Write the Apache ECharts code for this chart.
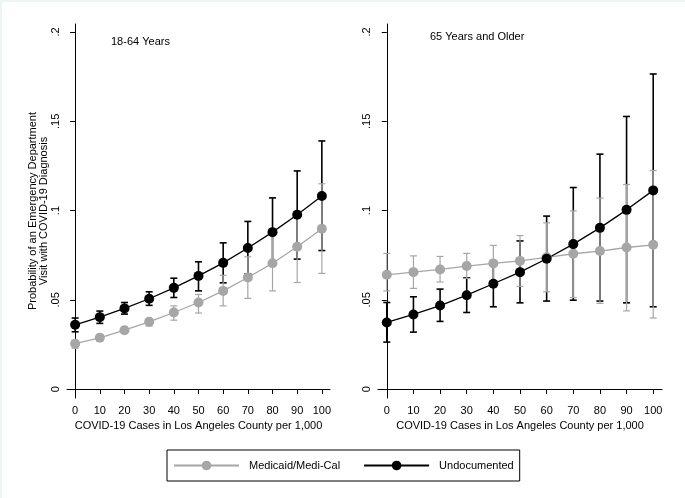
<!DOCTYPE html>
<html>
<head>
<meta charset="utf-8">
<script src="https://cdn.jsdelivr.net/npm/echarts@6/dist/echarts.min.js"></script>
<style>
html,body{margin:0;padding:0;background:#fff;}
#c{width:685px;height:498px;}
</style>
</head>
<body>
<div id="c"></div>
<script>
// ---- data ----
const xVals = [0, 10, 20, 30, 40, 50, 60, 70, 80, 90, 100];
const xTicks = [0, 10, 20, 30, 40, 50, 60, 70, 80, 90, 100];
const yTicks = [0, 0.05, 0.1, 0.15, 0.2];
const seriesNames = ['Medicaid/Medi-Cal', 'Undocumented'];
const panelTitles = ['18-64 Years', '65 Years and Older'];

// 18-64 years
const leftMedicaid   = [0.0254, 0.0287, 0.0330, 0.0377, 0.0429, 0.0485, 0.0550, 0.0625, 0.0705, 0.0797, 0.0898];
const leftMedicaidLo = [0.0229, 0.0269, 0.0314, 0.0353, 0.0386, 0.0426, 0.0466, 0.0508, 0.0550, 0.0597, 0.0648];
const leftMedicaidHi = [0.0273, 0.0306, 0.0347, 0.0394, 0.0466, 0.0530, 0.0637, 0.0741, 0.0860, 0.0997, 0.1150];
const leftUndoc      = [0.0360, 0.0403, 0.0452, 0.0506, 0.0567, 0.0634, 0.0707, 0.0790, 0.0879, 0.0976, 0.1082];
const leftUndocLo    = [0.0321, 0.0368, 0.0420, 0.0469, 0.0513, 0.0550, 0.0595, 0.0645, 0.0690, 0.0728, 0.0776];
const leftUndocHi    = [0.0398, 0.0437, 0.0485, 0.0545, 0.0621, 0.0713, 0.0819, 0.0939, 0.1071, 0.1222, 0.1390];

// 65 years and older
const rightMedicaid   = [0.0640, 0.0655, 0.0670, 0.0689, 0.0704, 0.0718, 0.0738, 0.0758, 0.0773, 0.0793, 0.0808];
const rightMedicaidLo = [0.0550, 0.0564, 0.0600, 0.0620, 0.0605, 0.0575, 0.0545, 0.0513, 0.0480, 0.0438, 0.0398];
const rightMedicaidHi = [0.0760, 0.0746, 0.0743, 0.0760, 0.0805, 0.0860, 0.0931, 0.0998, 0.1070, 0.1146, 0.1224];
const rightUndoc      = [0.0373, 0.0418, 0.0468, 0.0526, 0.0590, 0.0655, 0.0730, 0.0812, 0.0903, 0.1004, 0.1113];
const rightUndocLo    = [0.0263, 0.0319, 0.0379, 0.0429, 0.0461, 0.0483, 0.0493, 0.0498, 0.0493, 0.0483, 0.0461];
const rightUndocHi    = [0.0485, 0.0517, 0.0560, 0.0623, 0.0718, 0.0830, 0.0969, 0.1129, 0.1316, 0.1527, 0.1765];

// ---- styles ----
const GRAY = '#a6a6a6';
const BLACK = '#000000';
const FONT = 'Liberation Sans';

function ciSeries(name, idx, lo, hi, color, width) {
  return {
    type: 'custom', name: name, xAxisIndex: idx, yAxisIndex: idx, silent: true,
    data: xVals.map((x, i) => [x, lo[i], hi[i]]),
    encode: { x: 0, y: [1, 2] },
    renderItem: function (params, api) {
      const x = api.value(0);
      const a = api.coord([x, api.value(1)]);
      const b = api.coord([x, api.value(2)]);
      const w = 3.5;
      const st = { stroke: color, lineWidth: width };
      return { type: 'group', children: [
        { type: 'line', shape: { x1: a[0], y1: a[1], x2: b[0], y2: b[1] }, style: st },
        { type: 'line', shape: { x1: a[0] - w, y1: a[1], x2: a[0] + w, y2: a[1] }, style: st },
        { type: 'line', shape: { x1: b[0] - w, y1: b[1], x2: b[0] + w, y2: b[1] }, style: st }
      ]};
    }
  };
}
function lineSeries(name, idx, vals, color) {
  return {
    type: 'line', name: name, xAxisIndex: idx, yAxisIndex: idx,
    data: xVals.map((x, i) => [x, vals[i]]),
    symbol: 'circle', symbolSize: 10, showSymbol: true,
    lineStyle: { color: color, width: 1.3 },
    itemStyle: { color: color },
    emphasis: { disabled: true }
  };
}
function xAxis(idx) {
  return {
    type: 'value', gridIndex: idx, min: -3.3, max: 103.3,
    name: 'COVID-19 Cases in Los Angeles County per 1,000',
    nameLocation: 'middle', nameGap: 19,
    nameTextStyle: { fontFamily: FONT, fontSize: 11, color: '#000' },
    axisLine: { show: true, lineStyle: { color: '#000', width: 1 } },
    axisTick: { show: true, length: 5, customValues: xTicks, lineStyle: { color: '#000' } },
    axisLabel: { customValues: xTicks, margin: 7, fontFamily: FONT, fontSize: 11, color: '#000' },
    splitLine: { show: false }
  };
}
function yAxis(idx, withName) {
  const ax = {
    type: 'value', gridIndex: idx, min: -0.005, max: 0.2045,
    axisLine: { show: true, lineStyle: { color: '#000', width: 1 } },
    axisTick: { show: true, length: 5, customValues: yTicks, lineStyle: { color: '#000' } },
    axisLabel: {
      customValues: yTicks, rotate: 90, margin: 6, fontFamily: FONT, fontSize: 11, color: '#000',
      formatter: v => (v === 0 ? '0' : String(Math.round(v * 100) / 100).replace(/^0/, ''))
    },
    splitLine: { show: false }
  };
  if (withName) {
    ax.name = 'Probability of an Emergency Department\nVisit with COVID-19 Diagnosis';
    ax.nameLocation = 'middle';
    ax.nameGap = 15;
    ax.nameTextStyle = { fontFamily: FONT, fontSize: 11, color: '#000', lineHeight: 11 };
  }
  return ax;
}

const chart = echarts.init(document.getElementById('c'), null, { renderer: 'canvas' });
chart.setOption({
  animation: false,
  backgroundColor: '#ffffff',
  textStyle: { fontFamily: FONT },
  title: [
    { text: panelTitles[0], left: 111, top: 36, padding: 0, textStyle: { fontFamily: FONT, fontSize: 11, fontWeight: 'normal', color: '#000' } },
    { text: panelTitles[1], left: 430, top: 31, padding: 0, textStyle: { fontFamily: FONT, fontSize: 11, fontWeight: 'normal', color: '#000' } }
  ],
  grid: [
    { left: 67, top: 24, width: 263, height: 374 },
    { left: 378, top: 24, width: 284, height: 374 }
  ],
  xAxis: [xAxis(0), xAxis(1)],
  yAxis: [yAxis(0, true), yAxis(1, false)],
  legend: {
    data: seriesNames,
    left: 167, top: 450,
    orient: 'horizontal',
    padding: [10, 6, 10, 6],
    itemWidth: 65, itemHeight: 12, itemGap: 23,
    borderColor: '#000', borderWidth: 1,
    textStyle: { fontFamily: FONT, fontSize: 11, color: '#000', padding: [0, 0, 0, 5] },
    selectedMode: false
  },
  graphic: [
    { type: 'rect', left: 0, top: 0, shape: { width: 685, height: 2 }, style: { fill: '#eef3f6' }, silent: true },
    { type: 'rect', left: 0, top: 0, shape: { width: 2, height: 498 }, style: { fill: '#eef3f6' }, silent: true }
  ],
  series: [
    ciSeries('ciU0', 0, leftUndocLo, leftUndocHi, BLACK, 1.6),
    ciSeries('ciM0', 0, leftMedicaidLo, leftMedicaidHi, GRAY, 1.2),
    lineSeries(seriesNames[0], 0, leftMedicaid, GRAY),
    lineSeries(seriesNames[1], 0, leftUndoc, BLACK),
    ciSeries('ciU1', 1, rightUndocLo, rightUndocHi, BLACK, 1.6),
    ciSeries('ciM1', 1, rightMedicaidLo, rightMedicaidHi, GRAY, 1.2),
    lineSeries(seriesNames[0], 1, rightMedicaid, GRAY),
    lineSeries(seriesNames[1], 1, rightUndoc, BLACK)
  ]
});
</script>
</body>
</html>
